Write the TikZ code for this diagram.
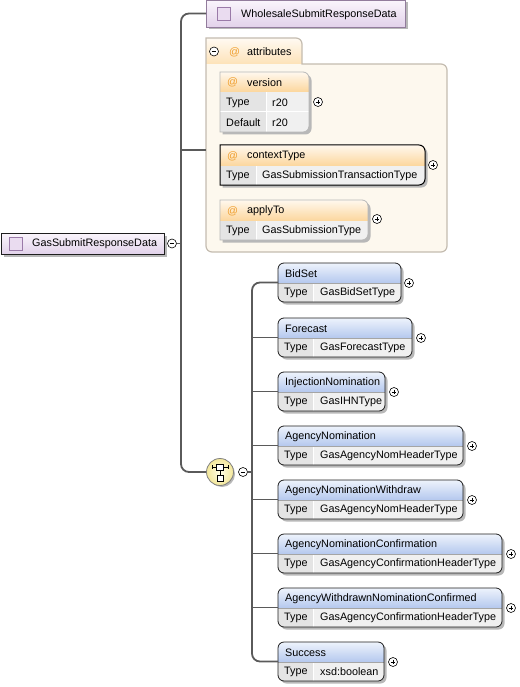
\documentclass[tikz,border=0pt]{standalone}
\usepackage{fontspec}
\setmainfont{Liberation Sans}
\definecolor{connc}{HTML}{5A5A5A}
\definecolor{shadowc}{HTML}{B8B8B8}
\definecolor{ehtop}{HTML}{EEF3FC}
\definecolor{ehbot}{HTML}{B4C8EE}
\definecolor{typec}{HTML}{E4E4E4}
\definecolor{valc}{HTML}{F0F0F0}
\definecolor{ebordc}{HTML}{1E1E1E}
\definecolor{ahtop}{HTML}{FFF8EE}
\definecolor{ahbot}{HTML}{FCD69C}
\definecolor{abordc}{HTML}{B8B8B8}
\definecolor{tabtop}{HTML}{FFFAF2}
\definecolor{tabbot}{HTML}{FDE2B8}
\definecolor{attrbody}{HTML}{FDF8EE}
\definecolor{attrbord}{HTML}{C4BCB0}
\definecolor{ptop}{HTML}{FAF5FC}
\definecolor{pbot}{HTML}{E2D2EA}
\definecolor{sqfill}{HTML}{EADCF0}
\definecolor{sqbord}{HTML}{9A7AA8}
\definecolor{atc}{HTML}{F0A030}
\definecolor{seqin}{HTML}{FFFDE6}
\definecolor{seqout}{HTML}{F3E79A}
\tikzset{
  x=1pt, y=-1pt,
  conn/.style={draw=connc, line width=1.8pt},
  txt/.style={font=\fontsize{10.8}{12}\selectfont, inner sep=0pt, anchor=west, text=black},
  boxshape/.style={rectangle, inner sep=0pt, outer sep=0pt},
  pm/.style={circle, draw=black, fill=white, line width=0.6pt, minimum size=9pt, inner sep=0pt},
  pmline/.style={black, line width=0.7pt},
  ebord/.style={draw=ebordc, line width=0.8pt},
  sqicon/.style={rectangle, draw=sqbord, fill=sqfill, minimum size=13pt, inner sep=0pt, line width=0.8pt},
  attrp/.style n args={4}{insert path={(#1,#2) -- (#1+#3-6,#2) arc[start angle=270,end angle=360,radius=6] -- (#1+#3,#2+#4-6) arc[start angle=0,end angle=90,radius=6] -- (#1,#2+#4) -- cycle}},
}
\newcommand\xplus[3]{\node[pm] (#1) at (#2,#3) {};
  \draw[pmline] (#2-2.4,#3) -- (#2+2.4,#3) (#2,#3-2.4) -- (#2,#3+2.4);}
\newcommand\xminus[3]{\node[pm] (#1) at (#2,#3) {};
  \draw[pmline] (#2-2.4,#3) -- (#2+2.4,#3);}
% element box: name, x, y, w, div offset, title, type
\newcommand\xelem[7]{%
  \fill[shadowc, rounded corners=6] (#2+2.5,#3+2.5) rectangle ++(#4,39);
  \node[boxshape, minimum width=#4pt, minimum height=39pt, anchor=north west] (#1) at (#2,#3) {};
  \begin{scope}
    \clip[rounded corners=6] (#2,#3) rectangle ++(#4,39);
    \shade[top color=ehtop, bottom color=ehbot] (#2,#3) rectangle ++(#4,20);
    \fill[typec] (#2,#3+20) rectangle ++(#5,19);
    \fill[valc] (#2+#5,#3+20) rectangle (#2+#4,#3+39);
    \draw[white, line width=1pt] (#2+#5,#3+20) -- ++(0,19);
  \end{scope}
  \draw[draw=ebordc!40, line width=0.5pt] (#2,#3+20) -- ++(#4,0);
  \draw[ebord, rounded corners=6] (#2,#3) rectangle ++(#4,39);
  \node[txt] (#1-t) at (#2+7,#3+10.5) {#6};
  \node[txt] (#1-k) at (#2+6,#3+30) {Type};
  \node[txt] (#1-v) at (#2+#5+7,#3+30) {#7};
}
% attribute box: name, x, y, w, div offset, title, type, border style
\newcommand\xattr[8]{%
  \fill[shadowc, attrp={#2+2.5}{#3+2.5}{#4}{40}];
  \node[boxshape, minimum width=#4pt, minimum height=40pt, anchor=north west] (#1) at (#2,#3) {};
  \begin{scope}
    \clip[attrp={#2}{#3}{#4}{40}];
    \shade[top color=ahtop, bottom color=ahbot] (#2,#3) rectangle ++(#4,21);
    \fill[typec] (#2,#3+21) rectangle ++(#5,19);
    \fill[valc] (#2+#5,#3+21) rectangle (#2+#4,#3+40);
    \draw[white, line width=1pt] (#2+#5,#3+21) -- ++(0,19);
  \end{scope}
  \draw[#8, attrp={#2}{#3}{#4}{40}];
  \node[txt, text=atc] (#1-a) at (#2+7,#3+11) {@};
  \node[txt] (#1-t) at (#2+27,#3+11) {#6};
  \node[txt] (#1-k) at (#2+6,#3+31) {Type};
  \node[txt] (#1-v) at (#2+#5+6,#3+31) {#7};
}
\begin{document}
\begin{tikzpicture}
\useasboundingbox (0,0) rectangle (519,687);

% ---------- root element ----------
\fill[shadowc] (3.5,235.5) rectangle (166.5,256.5);
\node[boxshape, draw=ebordc, line width=0.9pt, top color=ptop, bottom color=pbot,
      minimum width=163pt, minimum height=21pt, anchor=north west] (root) at (1,233) {};
\node[sqicon] (root-i) at (15.5,243.5) {};
\node[txt] (root-t) at (32,244) {GasSubmitResponseData};
\xminus{rootm}{172}{243.5}

% ---------- WholesaleSubmitResponseData ----------
\fill[shadowc] (208.5,2.5) rectangle (407.5,29.5);
\node[boxshape, draw=sqbord!70!gray, line width=0.8pt, top color=ptop, bottom color=pbot,
      minimum width=199pt, minimum height=27pt, anchor=north west] (whole) at (206,0) {};
\node[sqicon] (whole-i) at (224,14) {};
\node[txt] (whole-t) at (241,14.5) {WholesaleSubmitResponseData};

% ---------- attributes group ----------
\node[boxshape, minimum width=241pt, minimum height=214pt, anchor=north west] (attrs) at (206,38) {};
\fill[attrbody] (206,38) -- (296,38) arc[start angle=270,end angle=360,radius=6] -- (302,64)
  -- (441,64) arc[start angle=270,end angle=360,radius=6] -- (447,246)
  arc[start angle=0,end angle=90,radius=6] -- (212,252) arc[start angle=90,end angle=180,radius=6] -- cycle;
\shade[top color=tabtop, bottom color=tabbot] (206,38) -- (296,38) arc[start angle=270,end angle=360,radius=6]
  -- (302,64) -- (206,64) -- cycle;
\draw[draw=attrbord, line width=1.2pt] (206,38) -- (296,38) arc[start angle=270,end angle=360,radius=6] -- (302,64)
  -- (441,64) arc[start angle=270,end angle=360,radius=6] -- (447,246)
  arc[start angle=0,end angle=90,radius=6] -- (212,252) arc[start angle=90,end angle=180,radius=6] -- cycle;
\xminus{attrm}{214}{51.5}
\node[txt, text=atc] (attrs-a) at (229,52) {@};
\node[txt] (attrs-t) at (247,52) {attributes};
\coordinate (attrin) at (206,150);

% version (three rows)
\fill[shadowc, attrp={222.5}{74.5}{89}{60}];
\node[boxshape, minimum width=89pt, minimum height=60pt, anchor=north west] (version) at (220,72) {};
\begin{scope}
  \clip[attrp={220}{72}{89}{60}];
  \shade[top color=ahtop, bottom color=ahbot] (220,72) rectangle (309,92);
  \fill[typec] (220,92) rectangle (266,132);
  \fill[valc] (266,92) rectangle (309,132);
  \draw[white, line width=1pt] (220,112) -- (309,112) (266,92) -- (266,132);
\end{scope}
\draw[draw=abordc, line width=0.8pt, attrp={220}{72}{89}{60}];
\node[txt, text=atc] (version-a) at (227,82.5) {@};
\node[txt] (version-t) at (247,82.5) {version};
\node[txt] (version-k) at (226,102.5) {Type};
\node[txt] (version-v) at (272,102.5) {r20};
\node[txt] (version-k2) at (226,122.5) {Default};
\node[txt] (version-v2) at (272,122.5) {r20};
\xplus{versionp}{318}{102}

\xattr{ctx}{220}{145}{205}{36}{contextType}{GasSubmissionTransactionType}{draw=black, line width=1pt}
\xplus{ctxp}{433}{165}
\xattr{apply}{220}{200}{148}{36}{applyTo}{GasSubmissionType}{draw=abordc, line width=0.8pt}
\xplus{applyp}{377}{219}

% ---------- sequence ----------
\fill[shadowc] (222,474) circle (13);
\node[circle, draw=gray, line width=0.8pt, inner color=seqin, outer color=seqout,
      minimum size=27pt, inner sep=0pt] (seq) at (220,472) {};
\draw[black, line width=0.7pt] (212,467) -- (228,467) (212,465) -- (212,469) (228,465) -- (228,469)
  (220,470) -- (220,475);
\draw[black, fill=white, line width=0.7pt] (216.5,464) rectangle (223.5,470);
\draw[black, fill=white, line width=0.7pt] (217,475) rectangle (223,481);
\xminus{seqm}{243}{472}

% ---------- elements ----------
\xelem{bidset}{278}{263}{123}{35}{BidSet}{GasBidSetType}
\xplus{bidsetp}{409}{283}
\xelem{forecast}{278}{318}{134}{35}{Forecast}{GasForecastType}
\xplus{forecastp}{421}{338}
\xelem{inj}{278}{372}{107}{35}{InjectionNomination}{GasIHNType}
\xplus{injp}{394}{392}
\xelem{agnom}{278}{426}{185}{35}{AgencyNomination}{GasAgencyNomHeaderType}
\xplus{agnomp}{472}{446}
\xelem{agwd}{278}{480}{185}{35}{AgencyNominationWithdraw}{GasAgencyNomHeaderType}
\xplus{agwdp}{472}{500}
\xelem{agconf}{278}{534}{224}{35}{AgencyNominationConfirmation}{GasAgencyConfirmationHeaderType}
\xplus{agconfp}{511}{554}
\xelem{agwconf}{278}{588}{224}{35}{AgencyWithdrawnNominationConfirmed}{GasAgencyConfirmationHeaderType}
\xplus{agwconfp}{511}{608}
\xelem{success}{278}{642}{106}{35}{Success}{xsd:boolean}
\xplus{successp}{393}{662}

% ---------- connectors ----------
\coordinate (trunkb) at (181,472);
\coordinate (busb) at (252,661.5);
\draw[conn, rounded corners=8] (whole.west) -| (trunkb) -- (seq.west);
\draw[conn] (rootm.east) -- (rootm.east -| trunkb);
\draw[conn] (attrin -| trunkb) -- (attrin);
\draw[conn, rounded corners=8] (bidset.west) -| (busb) -- (success.west);
\draw[conn] (seqm.east) -- (seqm.east -| busb);
\foreach \n in {forecast,inj,agnom,agwd,agconf,agwconf}
  \draw[conn] (\n.west -| busb) -- (\n.west);
\end{tikzpicture}
\end{document}
